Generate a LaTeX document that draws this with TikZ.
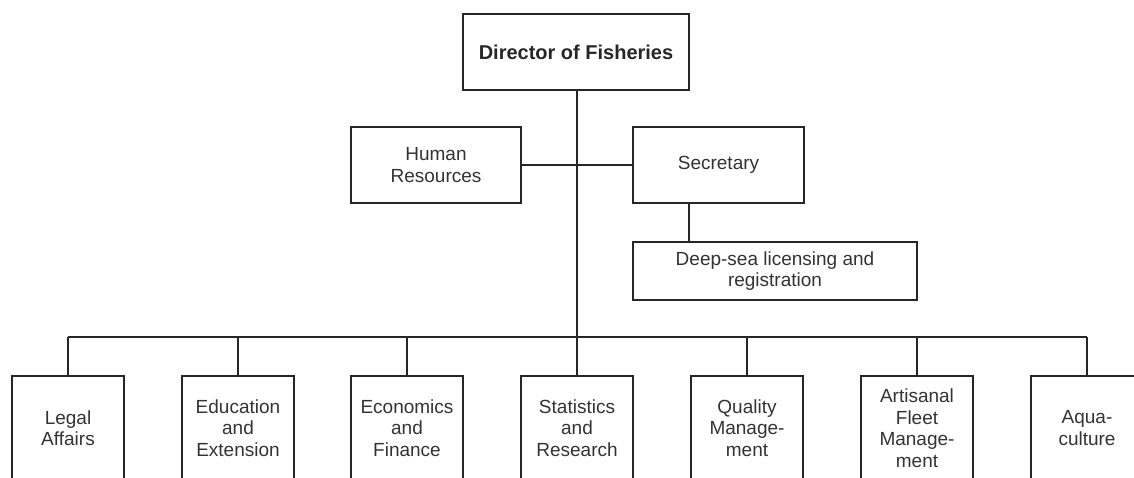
\documentclass[tikz,border=0pt]{standalone}
\usepackage{fontspec}
\setmainfont{Liberation Sans}
\begin{document}
\begin{tikzpicture}[x=1pt,y=-1pt,line width=1.8pt,
  box/.style={draw=black!85,align=center,inner sep=0pt,font=\fontsize{19}{21.5}\selectfont,text=black!80},
  topbox/.style={box,font=\bfseries\fontsize{20}{22}\selectfont,text=black!85},
  unit/.style={box,minimum width=112,minimum height=104},
  link/.style={draw=black!85}]
\useasboundingbox[fill=white] (0,0) rectangle (1134,478);
\begin{scope}
\clip (0,0) rectangle (1134,478);
\node[topbox,minimum width=226,minimum height=76] (dir) at (576,52) {Director of Fisheries};
\node[box,minimum width=170,minimum height=76] (hr) at (436,165) {Human\\Resources};
\node[box,minimum width=171,minimum height=76] (sec) at (718.5,165) {Secretary};
\node[box,minimum width=284,minimum height=58] (dsl) at (775,271) {Deep-sea licensing and\\registration};
\coordinate (sx) at (689,0);
\coordinate (bar) at (0,337);
\node[unit] (u1) at (68,428) {Legal\\Affairs};
\node[unit] (u2) at (238,428) {Education\\and\\Extension};
\node[unit] (u3) at (407,428) {Economics\\and\\Finance};
\node[unit] (u4) at (577,428) {Statistics\\and\\Research};
\node[unit] (u5) at (747,428) {Quality\\Manage-\\ment};
\node[unit] (u6) at (917,428) {Artisanal\\Fleet\\Manage-\\ment};
\node[unit] (u7) at (1087,428) {Aqua-\\culture};
\draw[link] (dir.south -| u4.north) -- (u4.north |- bar);
\draw[link] (hr.east) -- (sec.west);
\draw[link] (sec.south -| sx) -- (dsl.north -| sx);
\draw[link] (u1.north |- bar) -- (u7.north |- bar);
\foreach \u in {u1,u2,u3,u4,u5,u6,u7}{
  \draw[link] (\u.north) -- (\u.north |- bar);
}
\end{scope}
\end{tikzpicture}
\end{document}
